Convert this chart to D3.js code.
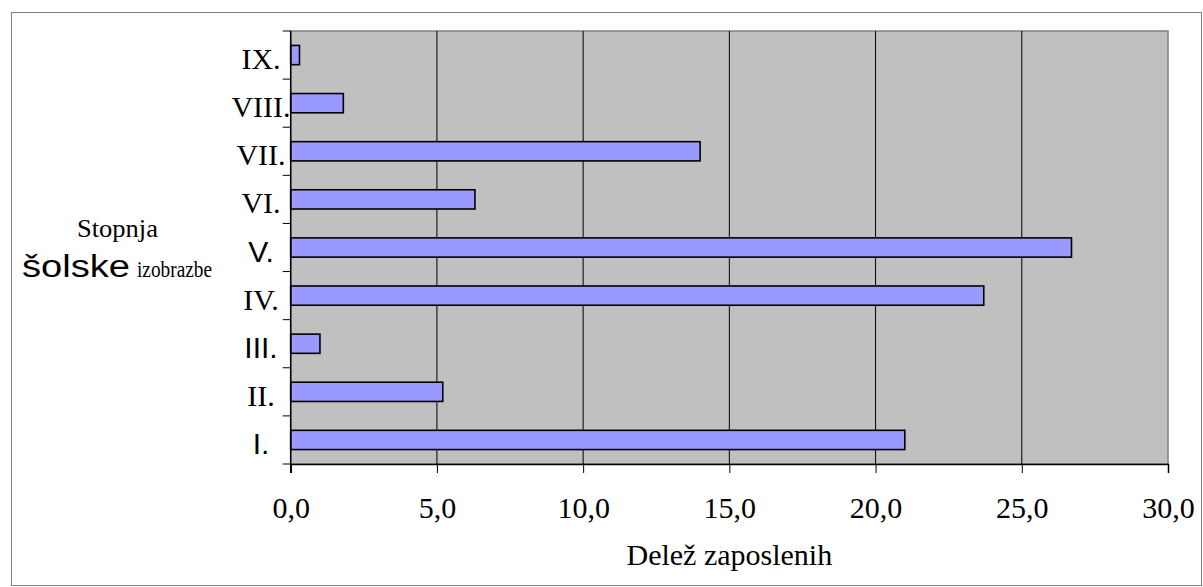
<!DOCTYPE html>
<html>
<head>
<meta charset="utf-8">
<script src="https://cdn.jsdelivr.net/npm/d3@7"></script>
<style>
  html, body { margin: 0; padding: 0; background: #fff; }
  svg { display: block; }
</style>
</head>
<body>
<svg id="chart" width="1203" height="587"></svg>
<script>
const categories = ["I.", "II.", "III.", "IV.", "V.", "VI.", "VII.", "VIII.", "IX."];
const values = [21.0, 5.2, 1.0, 23.7, 26.7, 6.3, 14.0, 1.8, 0.3];
const sansLabels = ["I.", "III.", "V."];
const xTicks = [0, 5, 10, 15, 20, 25, 30];
const xTitle = "Delež zaposlenih";
const yTitleLine1 = "Stopnja";
const yTitleLine2a = "šolske";
const yTitleLine2b = "izobrazbe";

const svg = d3.select("#chart");
const W = 1203, H = 587;
const plot = { left: 290.7, right: 1168, top: 31, bottom: 464 };
const serif = "'Liberation Serif', 'Times New Roman', serif";
const sans = "'Liberation Sans', Arial, sans-serif";

// outer border
svg.append("rect")
  .attr("x", 11.5).attr("y", 12.5)
  .attr("width", W - 13).attr("height", H - 14)
  .attr("fill", "#fff").attr("stroke", "#808080").attr("stroke-width", 1);

const x = d3.scaleLinear().domain([0, 30]).range([plot.left, plot.right]);
const y = d3.scaleBand().domain(categories.slice().reverse())
  .range([plot.top, plot.bottom]).paddingInner(0.6).paddingOuter(0.3);

// plot background
svg.append("rect")
  .attr("x", plot.left).attr("y", plot.top)
  .attr("width", plot.right - plot.left).attr("height", plot.bottom - plot.top)
  .attr("fill", "#C0C0C0").attr("stroke", "#808080").attr("stroke-width", 1.5);

// gridlines
svg.append("g").selectAll("line").data(xTicks.filter(t => t > 0 && t < 30)).join("line")
  .attr("x1", d => x(d)).attr("x2", d => x(d))
  .attr("y1", plot.top).attr("y2", plot.bottom)
  .attr("stroke", "#000").attr("stroke-width", 1);

// bars
svg.append("g").selectAll("rect").data(categories.map((c, i) => ({ c, v: values[i] }))).join("rect")
  .attr("x", x(0))
  .attr("y", d => y(d.c))
  .attr("width", d => x(d.v) - x(0))
  .attr("height", y.bandwidth())
  .attr("fill", "#9999FF").attr("stroke", "#000").attr("stroke-width", 1.6);

// x axis
const tickFs = 30;
const xAxis = d3.axisBottom(x).tickValues(xTicks).tickSize(9).tickPadding(518 - 464 - 9 - 0.71 * tickFs)
  .tickFormat(d => d3.format(".1f")(d).replace(".", ","));
const gx = svg.append("g").attr("transform", `translate(0,${plot.bottom})`).call(xAxis);
gx.select(".domain").attr("stroke", "#000").attr("stroke-width", 1.5);
gx.selectAll(".tick line").attr("stroke", "#000").attr("stroke-width", 1);
gx.selectAll(".tick text").attr("font-family", serif).attr("font-size", tickFs).attr("fill", "#000");

// y axis (category boundaries as ticks)
const boundaries = d3.range(categories.length + 1).map(i => plot.top + i * y.step());
svg.append("g").selectAll("line").data(boundaries).join("line")
  .attr("x1", plot.left - 8).attr("x2", plot.left)
  .attr("y1", d => d).attr("y2", d => d)
  .attr("stroke", "#000").attr("stroke-width", 1);
svg.append("line")
  .attr("x1", plot.left).attr("x2", plot.left)
  .attr("y1", plot.top).attr("y2", plot.bottom + 9)
  .attr("stroke", "#000").attr("stroke-width", 1.5);

// category labels
svg.append("g").selectAll("text").data(categories).join("text")
  .attr("x", 261)
  .attr("y", d => y(d) + y.bandwidth() / 2 + 14)
  .attr("text-anchor", "middle")
  .attr("font-family", d => sansLabels.includes(d) ? sans : serif)
  .attr("font-size", 30).attr("fill", "#000")
  .text(d => d);

// x title
svg.append("text")
  .attr("x", (plot.left + plot.right) / 2).attr("y", 565)
  .attr("text-anchor", "middle")
  .attr("font-family", serif).attr("font-size", 30).attr("fill", "#000")
  .text(xTitle);

// y title
svg.append("text")
  .attr("x", 77).attr("y", 237)
  .attr("font-family", serif).attr("font-size", 26).attr("fill", "#000")
  .attr("textLength", 81).attr("lengthAdjust", "spacingAndGlyphs")
  .text(yTitleLine1);
svg.append("text")
  .attr("x", 22).attr("y", 277)
  .attr("font-family", sans).attr("font-size", 31).attr("fill", "#000")
  .attr("textLength", 108).attr("lengthAdjust", "spacingAndGlyphs")
  .text(yTitleLine2a);
svg.append("text")
  .attr("x", 137).attr("y", 277)
  .attr("font-family", serif).attr("font-size", 23).attr("fill", "#000")
  .attr("textLength", 75).attr("lengthAdjust", "spacingAndGlyphs")
  .text(yTitleLine2b);
</script>
</body>
</html>
